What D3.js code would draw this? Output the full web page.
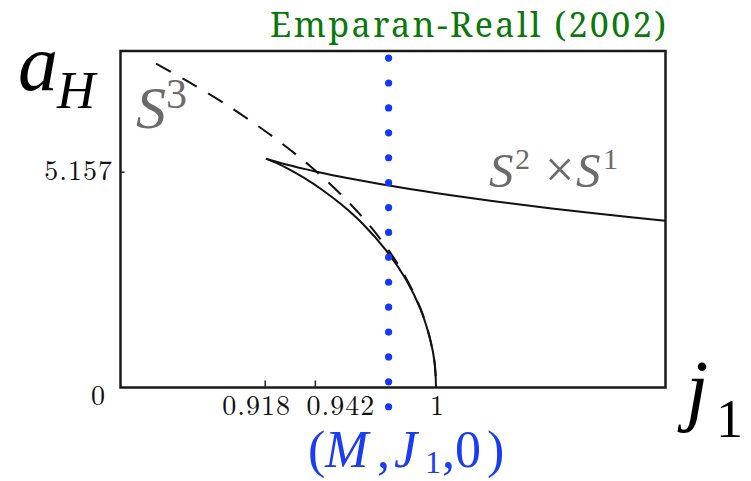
<!DOCTYPE html>
<html>
<head>
<meta charset="utf-8">
<script src="https://cdn.jsdelivr.net/npm/d3@7/dist/d3.min.js"></script>
<style>
  html, body { margin: 0; padding: 0; background: #fff; }
  svg { display: block; }
</style>
</head>
<body>
<svg id="chart" width="751" height="481"></svg>
<script>
// Horizon area a_H against spin j_1 for 5D black objects.

// Myers-Perry S^3 branch (dashed)
const sphereJ = [0.866, 0.88, 0.90, 0.92, 0.94, 0.96, 0.975, 0.985, 0.992, 0.996, 0.999, 0.9998, 1.0];
const sphereA = [7.736, 7.348, 6.744, 6.063, 5.278, 4.332, 3.438, 2.670, 1.953, 1.382, 0.692, 0.309, 0];

// Thin black ring S^2 x S^1 branch
const thinRingJ = [0.9186, 0.9202, 0.9260, 0.9374, 0.9428, 0.9568, 0.9882, 1.0157, 1.0392, 1.0682, 1.0945, 1.1084, 1.1147];
const thinRingA = [5.470, 5.442, 5.359, 5.218, 5.157, 5.013, 4.737, 4.532, 4.376, 4.203, 4.061, 3.990, 3.959];

// Fat black ring branch
const fatRingJ = [0.9186, 0.9200, 0.9238, 0.9295, 0.9367, 0.9451, 0.9546, 0.9650, 0.9760, 0.9854, 0.9926, 0.9975, 0.9993, 1.0];
const fatRingA = [5.470, 5.442, 5.359, 5.218, 5.013, 4.737, 4.376, 3.906, 3.282, 2.598, 1.866, 1.088, 0.598, 0];

// Axis ticks
const xTicks = [0.918, 0.942, 1];
const xTickLabels = ["0.918", "0.942", "1"];
const yTicks = [0, 5.157];
const yTickLabels = ["0", "5.157"];

// Axis extents
const xDomain = [0.849, 1.1098];
const yDomain = [0, 8.04];

// Emparan-Reall marker at fixed spin
const markerJ = 0.9773;
const markerA = [-0.46, 7.87];

const svg = d3.select("#chart");
const plotLeft = 120.5, plotRight = 665.5, plotTop = 51, plotBottom = 387.5;

const x = d3.scaleLinear().domain(xDomain).range([plotLeft, plotRight]);
const y = d3.scaleLinear().domain(yDomain).range([plotBottom, plotTop]);

const zip = (a, b) => a.map((v, i) => [v, b[i]]);

svg.append("defs").append("clipPath").attr("id", "plotClip")
  .append("rect").attr("x", plotLeft).attr("y", plotTop)
  .attr("width", plotRight - plotLeft).attr("height", plotBottom - plotTop);

const line = d3.line().x(d => x(d[0])).y(d => y(d[1])).curve(d3.curveCatmullRom.alpha(0.5));

const plot = svg.append("g").attr("clip-path", "url(#plotClip)");

plot.append("path").datum(zip(sphereJ, sphereA))
  .attr("d", line).attr("fill", "none").attr("stroke", "#111")
  .attr("stroke-width", 2).attr("stroke-dasharray", "17,13");

plot.append("path").datum(zip(thinRingJ, thinRingA))
  .attr("d", line).attr("fill", "none").attr("stroke", "#111")
  .attr("stroke-width", 2);

plot.append("path").datum(zip(fatRingJ, fatRingA))
  .attr("d", line).attr("fill", "none").attr("stroke", "#111")
  .attr("stroke-width", 2);

// Frame
svg.append("rect").attr("x", plotLeft).attr("y", plotTop)
  .attr("width", plotRight - plotLeft).attr("height", plotBottom - plotTop)
  .attr("fill", "none").attr("stroke", "#1a1a1a").attr("stroke-width", 2.5);

// Ticks (inward)
const xAxis = d3.axisTop(x).tickValues(xTicks.slice(0, 2)).tickSize(7).tickFormat("");
svg.append("g").attr("transform", `translate(0,${plotBottom})`).call(xAxis)
  .call(g => g.select(".domain").remove())
  .selectAll("line").attr("stroke", "#222").attr("stroke-width", 1.5);

const yAxis = d3.axisRight(y).tickValues(yTicks.slice(1)).tickSize(4).tickFormat("");
svg.append("g").attr("transform", `translate(${plotLeft},0)`).call(yAxis)
  .call(g => g.select(".domain").remove())
  .selectAll("line").attr("stroke", "#222").attr("stroke-width", 1.5);

// Tick labels
const tickFont = "Latin Modern Roman";
const xLabelShift = [-8, 26, 1];
svg.append("g").selectAll("text").data(xTicks).join("text")
  .attr("x", (d, i) => x(d) + xLabelShift[i])
  .attr("y", 415)
  .attr("text-anchor", "middle")
  .attr("font-family", tickFont).attr("font-size", 28)
  .attr("letter-spacing", (d, i) => i < 2 ? 1 : 0)
  .attr("fill", "#111")
  .text((d, i) => xTickLabels[i]);

const yLabelShift = [17, 8.5];
svg.append("g").selectAll("text").data(yTicks).join("text")
  .attr("x", (d, i) => i === 0 ? 106 : 113)
  .attr("y", (d, i) => y(d) + yLabelShift[i])
  .attr("text-anchor", "end")
  .attr("font-family", tickFont).attr("font-size", 28)
  .attr("letter-spacing", 1)
  .attr("fill", "#111")
  .text((d, i) => yTickLabels[i]);

// Dotted marker line
const dotTop = y(markerA[1]), dotBottom = y(markerA[0]);
svg.append("line")
  .attr("x1", x(markerJ)).attr("x2", x(markerJ))
  .attr("y1", dotTop).attr("y2", dotBottom)
  .attr("stroke", "#1238ff").attr("stroke-width", 7.2)
  .attr("stroke-linecap", "round")
  .attr("stroke-dasharray", `0,${(dotBottom - dotTop) / 14}`);

// Title
svg.append("text").attr("x", 270).attr("y", 37)
  .attr("font-family", "Noto Serif").attr("font-size", 34)
  .attr("textLength", 396).attr("lengthAdjust", "spacing")
  .attr("fill", "#0b780b")
  .text("Emparan-Reall (2002)");

const mathFont = "Liberation Serif";

// Axis titles
const aH = svg.append("text").attr("font-family", mathFont).attr("fill", "#000");
aH.append("tspan").attr("x", 18).attr("y", 90).attr("font-style", "italic").attr("font-size", 80).text("a");
aH.append("tspan").attr("x", 57).attr("y", 108).attr("font-style", "italic").attr("font-size", 53).text("H");

const j1 = svg.append("text").attr("font-family", mathFont).attr("fill", "#000");
j1.append("tspan").attr("x", 686).attr("y", 416).attr("font-style", "italic").attr("font-size", 80).text("j");
j1.append("tspan").attr("x", 716).attr("y", 437).attr("font-size", 54).text("1");

// Branch labels
const grey = "#6b6b6b";
const s3 = svg.append("text").attr("font-family", mathFont).attr("fill", grey);
s3.append("tspan").attr("x", 136).attr("y", 128).attr("font-style", "italic").attr("font-size", 60).text("S");
s3.append("tspan").attr("x", 166).attr("y", 108).attr("font-size", 42).text("3");

const s2s1 = svg.append("text").attr("font-family", mathFont).attr("fill", grey);
s2s1.append("tspan").attr("x", 489).attr("y", 187).attr("font-style", "italic").attr("font-size", 49).text("S");
s2s1.append("tspan").attr("x", 515).attr("y", 169).attr("font-size", 30).text("2");
s2s1.append("tspan").attr("x", 545).attr("y", 187).attr("font-size", 52).text("\u00d7");
s2s1.append("tspan").attr("x", 576).attr("y", 187).attr("font-style", "italic").attr("font-size", 49).text("S");
s2s1.append("tspan").attr("x", 603).attr("y", 169).attr("font-size", 30).text("1");

// Marker label
const blue = "#1a3cf5";
const ml = svg.append("text").attr("font-family", mathFont).attr("fill", blue).attr("font-size", 52);
ml.append("tspan").attr("x", 308).attr("y", 467).text("(");
ml.append("tspan").attr("x", 325).attr("y", 467).attr("font-style", "italic").text("M");
ml.append("tspan").attr("x", 377).attr("y", 467).text(",");
ml.append("tspan").attr("x", 394).attr("y", 467).attr("font-style", "italic").text("J");
ml.append("tspan").attr("x", 425).attr("y", 473).attr("font-size", 32).text("1");
ml.append("tspan").attr("x", 442).attr("y", 467).text(",");
ml.append("tspan").attr("x", 455).attr("y", 467).text("0");
ml.append("tspan").attr("x", 487).attr("y", 467).text(")");
</script>
</body>
</html>
